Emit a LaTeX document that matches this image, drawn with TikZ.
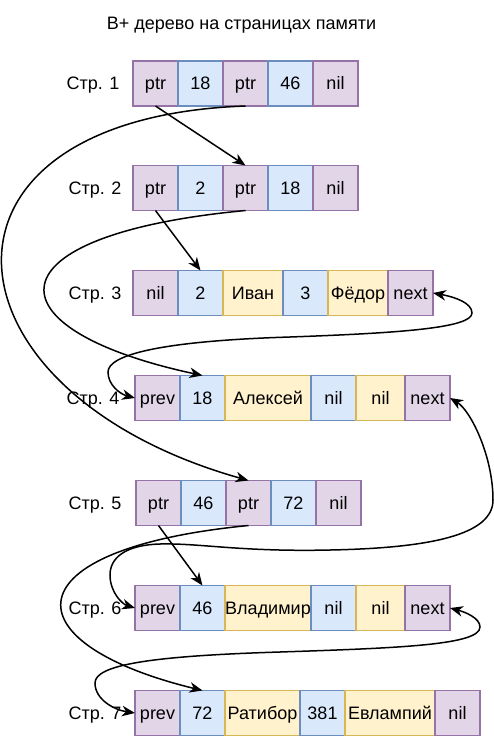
\documentclass[tikz,border=0pt]{standalone}
\usepackage{fontspec}
\setmainfont{Liberation Sans}
\usetikzlibrary{arrows.meta,positioning}
\definecolor{purF}{HTML}{E1D5E7}
\definecolor{purD}{HTML}{9673A6}
\definecolor{bluF}{HTML}{DAE8FC}
\definecolor{bluD}{HTML}{6C8EBF}
\definecolor{yelF}{HTML}{FFF2CC}
\definecolor{yelD}{HTML}{D6B656}
\begin{document}
\begin{tikzpicture}[x=1pt,y=-1pt,
  txt/.style={font=\fontsize{18}{21}\selectfont, inner sep=0pt, outer sep=0pt, text height=12.9pt, text depth=0pt},
  cell/.style={txt, line width=1.5pt, minimum height=45pt, anchor=west},
  pur/.style={cell, fill=purF, draw=purD},
  blu/.style={cell, fill=bluF, draw=bluD},
  yel/.style={cell, fill=yelF, draw=yelD},
  w/.style={minimum width=#1pt},
  tip/.tip={Stealth[length=13pt,width=10.5pt,inset=4pt]},
  link/.style={line width=1.5pt, -tip},
  both/.style={line width=1.5pt, tip-tip},
  lbl/.style={txt}
]
\useasboundingbox (0,0) rectangle (494,737);
\node[txt] (title) at (241.5,23) {B+ дерево на страницах памяти};

% Row 1
\node[lbl] (l1) at (93,83.5) {Стр. 1};
\node[pur,w=45] (r1c1) at (133,83.5) {ptr};
\node[blu,w=45,right=0pt of r1c1] (r1c2) {18};
\node[pur,w=45,right=0pt of r1c2] (r1c3) {ptr};
\node[blu,w=45,right=0pt of r1c3] (r1c4) {46};
\node[pur,w=45,right=0pt of r1c4] (r1c5) {nil};

% Row 2
\node[lbl] (l2) at (95,188) {Стр. 2};
\node[pur,w=45] (r2c1) at (133,188) {ptr};
\node[blu,w=45,right=0pt of r2c1] (r2c2) {2};
\node[pur,w=45,right=0pt of r2c2] (r2c3) {ptr};
\node[blu,w=45,right=0pt of r2c3] (r2c4) {18};
\node[pur,w=45,right=0pt of r2c4] (r2c5) {nil};

% Row 3
\node[lbl] (l3) at (95,293) {Стр. 3};
\node[pur,w=45] (r3c1) at (133,293) {nil};
\node[blu,w=45,right=0pt of r3c1] (r3c2) {2};
\node[yel,w=60,right=0pt of r3c2] (r3c3) {Иван};
\node[blu,w=45,right=0pt of r3c3] (r3c4) {3};
\node[yel,w=60,right=0pt of r3c4] (r3c5) {Фёдор};
\node[pur,w=45,right=0pt of r3c5] (r3c6) {next};

% Row 4
\node[lbl] (l4) at (93,398) {Стр. 4};
\node[pur,w=45] (r4c1) at (135,398) {prev};
\node[blu,w=45,right=0pt of r4c1] (r4c2) {18};
\node[yel,w=86,right=0pt of r4c2] (r4c3) {Алексей};
\node[blu,w=45,right=0pt of r4c3] (r4c4) {nil};
\node[yel,w=49,right=0pt of r4c4] (r4c5) {nil};
\node[pur,w=45,right=0pt of r4c5] (r4c6) {next};

% Row 5
\node[lbl] (l5) at (95,503) {Стр. 5};
\node[pur,w=45] (r5c1) at (136,503) {ptr};
\node[blu,w=45,right=0pt of r5c1] (r5c2) {46};
\node[pur,w=45,right=0pt of r5c2] (r5c3) {ptr};
\node[blu,w=45,right=0pt of r5c3] (r5c4) {72};
\node[pur,w=45,right=0pt of r5c4] (r5c5) {nil};

% Row 6
\node[lbl] (l6) at (95,608) {Стр. 6};
\node[pur,w=45] (r6c1) at (135,608) {prev};
\node[blu,w=45,right=0pt of r6c1] (r6c2) {46};
\node[yel,w=86,right=0pt of r6c2] (r6c3) {Владимир};
\node[blu,w=45,right=0pt of r6c3] (r6c4) {nil};
\node[yel,w=49,right=0pt of r6c4] (r6c5) {nil};
\node[pur,w=45,right=0pt of r6c5] (r6c6) {next};

% Row 7
\node[lbl] (l7) at (95,713) {Стр. 7};
\node[pur,w=45] (r7c1) at (135,713) {prev};
\node[blu,w=45,right=0pt of r7c1] (r7c2) {72};
\node[yel,w=75,right=0pt of r7c2] (r7c3) {Ратибор};
\node[blu,w=45,right=0pt of r7c3] (r7c4) {381};
\node[yel,w=90,right=0pt of r7c4] (r7c5) {Евлампий};
\node[pur,w=45,right=0pt of r7c5] (r7c6) {nil};

% straight pointers
\draw[link] (r1c1.south) -- (r2c3.north);
\draw[link] (r2c1.south) -- (r3c2.north);
\draw[link] (r5c1.south) -- (r6c2.north);

% curved pointers
\draw[link] (r1c3.south) .. controls (-92,118) and (-66,392) .. (r5c3.north);
\draw[link] (r2c3.south) .. controls (-14,235) and (-14,329) .. (r4c2.north);
\draw[link] (r5c3.south) .. controls (8,549) and (8,643) .. (r7c2.north);

% next / prev links
\draw[both] (r3c6.east) .. controls (455,297) and (472,303) .. (472,313)
  .. controls (472,328) and (400,333) .. (290,337)
  .. controls (160,341) and (108,355) .. (108,372)
  .. controls (108,385) and (120,394) .. (r4c1.west);
\draw[both] (r4c6.east) .. controls (470,410) and (493,455) .. (493,500)
  .. controls (493,535) and (430,548) .. (330,550)
  .. controls (240,552) and (200,543) .. (160,544)
  .. controls (125,545) and (110,558) .. (110,575)
  .. controls (110,592) and (122,604) .. (r6c1.west);
\draw[both] (r6c6.east) .. controls (465,612) and (480,618) .. (480,627)
  .. controls (480,645) and (400,648) .. (280,652)
  .. controls (150,656) and (95,665) .. (95,683)
  .. controls (95,700) and (115,710) .. (r7c1.west);
\end{tikzpicture}
\end{document}
